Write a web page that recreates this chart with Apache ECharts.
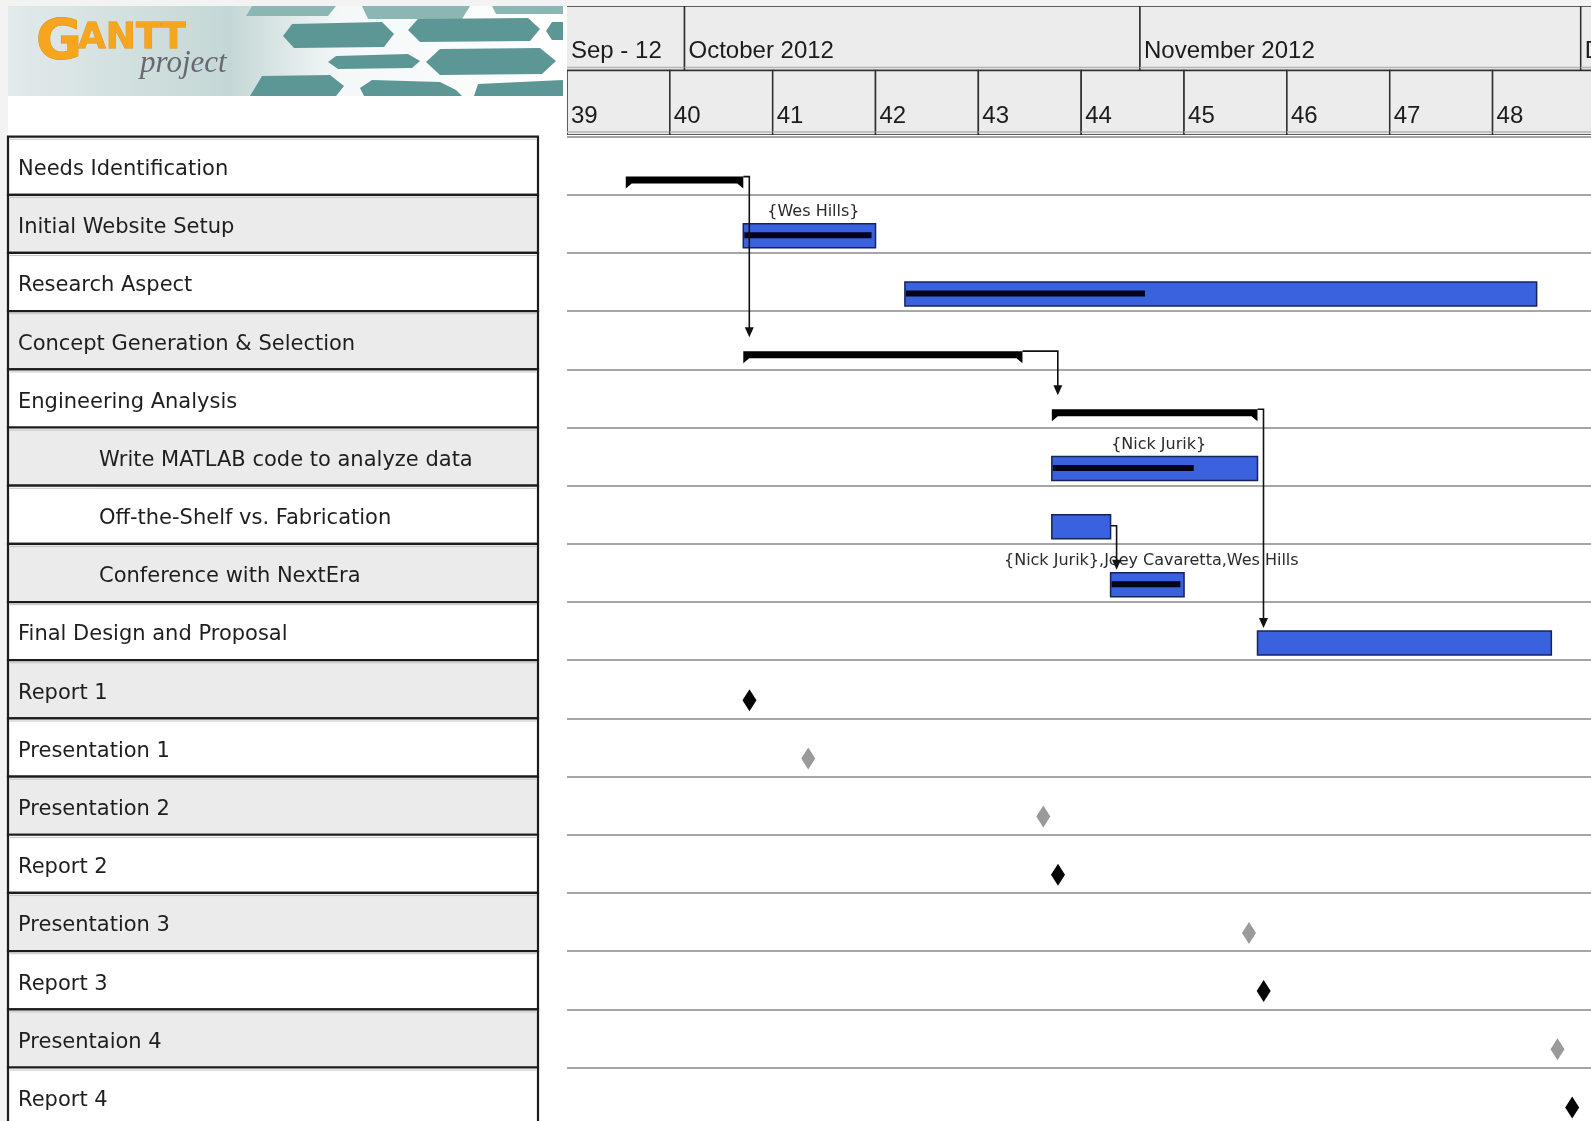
<!DOCTYPE html>
<html>
<head>
<meta charset="utf-8">
<script src="https://cdn.jsdelivr.net/npm/echarts@6/dist/echarts.min.js"></script>
<style>
  html, body { margin: 0; padding: 0; background: #ffffff; }
  #chart { width: 1591px; height: 1121px; }
</style>
</head>
<body>
<div id="chart"></div>
<script>
// ---- Project data -------------------------------------------------------
const taskNames = [
  'Needs Identification',
  'Initial Website Setup',
  'Research Aspect',
  'Concept Generation & Selection',
  'Engineering Analysis',
  'Write MATLAB code to analyze data',
  'Off-the-Shelf vs. Fabrication',
  'Conference with NextEra',
  'Final Design and Proposal',
  'Report 1',
  'Presentation 1',
  'Presentation 2',
  'Report 2',
  'Presentation 3',
  'Report 3',
  'Presentaion 4',
  'Report 4'
];
const taskLevel = [0, 0, 0, 0, 0, 1, 1, 1, 0, 0, 0, 0, 0, 0, 0, 0, 0];
const taskType = [
  'summary', 'task', 'task', 'summary', 'summary', 'task', 'task', 'task', 'task',
  'milestone', 'milestone', 'milestone', 'milestone', 'milestone', 'milestone', 'milestone', 'milestone'
];
const taskStart = [
  '2012-09-27', '2012-10-05', '2012-10-16', '2012-10-05', '2012-10-26',
  '2012-10-26', '2012-10-26', '2012-10-30', '2012-11-09',
  '2012-10-05', '2012-10-09', '2012-10-25', '2012-10-26',
  '2012-11-08', '2012-11-09', '2012-11-29', '2012-11-30'
];
const taskEnd = [
  '2012-10-05', '2012-10-14', '2012-11-28', '2012-10-24', '2012-11-09',
  '2012-11-09', '2012-10-30', '2012-11-04', '2012-11-29',
  null, null, null, null, null, null, null, null
];
const taskProgress = [null, 97, 38, null, null, 69, 0, 95, 0, null, null, null, null, null, null, null, null];
const taskResources = [
  '', '{Wes Hills}', '', '', '', '{Nick Jurik}', '',
  '{Nick Jurik},Joey Cavaretta,Wes Hills', '', '', '', '', '', '', '', '', ''
];
// finish-to-start links: [predecessor row, successor row]
const dependencies = [[0, 3], [3, 4], [4, 8], [6, 7]];

// timeline header
const monthLabels = ['Sep - 12', 'October 2012', 'November 2012', 'December 2012'];
const monthStarts = ['2012-09-01', '2012-10-01', '2012-11-01', '2012-12-01'];
const weekNumbers = [39, 40, 41, 42, 43, 44, 45, 46, 47, 48];
const weekStarts = [
  '2012-09-23', '2012-09-30', '2012-10-07', '2012-10-14', '2012-10-21',
  '2012-10-28', '2012-11-04', '2012-11-11', '2012-11-18', '2012-11-25'
];

// ---- helpers ------------------------------------------------------------
const DAY = 86400000;
const VIEW_START = Date.UTC(2012, 8, 23);
const VIEW_DAYS = 69.7;
function dayNum(s) {
  const p = s.split('-').map(Number);
  return (Date.UTC(p[0], p[1] - 1, p[2]) - VIEW_START) / DAY;
}
function nextMonth(s) {
  const p = s.split('-').map(Number);
  return (Date.UTC(p[0], p[1], 1) - VIEW_START) / DAY;
}

const PAGE_H = 1121;
const ROW_TOP = 136.6;
const ROW_H = 58.18;
const VISIBLE_ROWS = (PAGE_H - ROW_TOP) / ROW_H;   // the last row runs off the page

const monthData = monthStarts.map((s, i) => [dayNum(s), nextMonth(s), 0, i]);
const weekData = weekStarts.map((s, i) => [dayNum(s), dayNum(s) + 7, 1, weekNumbers[i]]);

const barData = [];
const milestoneData = [];
taskNames.forEach((n, i) => {
  if (taskType[i] === 'milestone') {
    milestoneData.push([dayNum(taskStart[i]), i]);
  } else {
    barData.push([dayNum(taskStart[i]), dayNum(taskEnd[i]), i]);
  }
});
const depData = dependencies.map(d => [dayNum(taskEnd[d[0]]), d[0], dayNum(taskStart[d[1]]), d[1]]);

// ---- renderers ----------------------------------------------------------
const HEADER_FONT = '24px "Liberation Sans", Arial, sans-serif';

function rowTop(api, x, row) {
  return api.coord([x, row])[1];
}

function renderHeaderCell(params, api) {
  const cs = params.coordSys;
  const row = api.value(2);
  const p0 = api.coord([api.value(0), row]);
  const p1 = api.coord([api.value(1), row]);
  const h = Math.abs(api.size([0, 1])[1]);
  const top = p0[1] - h / 2;
  const label = row === 0 ? monthLabels[api.value(3)] : String(api.value(3));
  const lx = Math.max(p0[0], cs.x) + 4;
  return {
    type: 'group',
    children: [
      { type: 'rect', shape: { x: p0[0], y: top, width: p1[0] - p0[0], height: h },
        style: { fill: '#ececec', stroke: '#2e2e2e', lineWidth: 1.5 } },
      { type: 'line', shape: { x1: p0[0], y1: top + h - 3, x2: p1[0], y2: top + h - 3 },
        style: { stroke: '#b4b4b4', lineWidth: 1.5 } },
      { type: 'text', x: lx, y: top + h * (row === 0 ? 0.7 : 0.71),
        style: { text: label, font: HEADER_FONT, fill: '#1c1c1c', verticalAlign: 'middle' } }
    ]
  };
}

function renderTableRow(params, api) {
  const cs = params.coordSys;
  const i = api.value(0);
  const top = rowTop(api, 0, i);
  const h = ROW_H;
  return {
    type: 'group',
    children: [
      { type: 'rect', shape: { x: cs.x, y: top, width: cs.width, height: h },
        style: { fill: i % 2 === 1 ? '#ebebeb' : '#ffffff', stroke: '#1c1c1c', lineWidth: 2.2 } },
      { type: 'line', shape: { x1: cs.x + 1.5, y1: top + 2.6, x2: cs.x + cs.width - 1.5, y2: top + 2.6 },
        style: { stroke: '#c4c4c4', lineWidth: 1 } },
      { type: 'text', x: cs.x + 10 + taskLevel[i] * 81, y: top + 33,
        style: { text: taskNames[i], font: '21px "DejaVu Sans", sans-serif', fill: '#1e1e1e', verticalAlign: 'middle' } }
    ]
  };
}

function renderBar(params, api) {
  const row = api.value(2);
  const x0 = api.coord([api.value(0), row])[0];
  const x1 = api.coord([api.value(1), row])[0];
  const top = rowTop(api, 0, row);
  const children = [];
  if (taskType[row] === 'summary') {
    const t = top + 40;
    children.push({
      type: 'polygon',
      shape: { points: [[x0, t], [x1, t], [x1, t + 12], [x1 - 6, t + 7], [x0 + 6, t + 7], [x0, t + 12]] },
      style: { fill: '#000000' }
    });
  } else {
    children.push({
      type: 'rect', shape: { x: x0, y: top + 29, width: x1 - x0, height: 24 },
      style: { fill: '#3a62de', stroke: '#16245e', lineWidth: 1.5 }
    });
    const prog = taskProgress[row];
    if (prog > 0) {
      children.push({
        type: 'rect', shape: { x: x0 + 1, y: top + 37.5, width: (x1 - x0) * prog / 100 - 1, height: 6 },
        style: { fill: '#02051a' }
      });
    }
    if (taskResources[row]) {
      children.push({
        type: 'text', x: (x0 + x1) / 2 + 4, y: top + 17,
        style: { text: taskResources[row], font: '16px "DejaVu Sans", sans-serif', fill: '#2a2a2a',
                 align: 'center', verticalAlign: 'middle' }
      });
    }
  }
  return { type: 'group', children };
}

function renderMilestone(params, api) {
  const row = api.value(1);
  const cx = api.coord([api.value(0) + 0.42, row])[0];
  const cy = rowTop(api, 0, row) + 40;
  const dark = taskNames[row].indexOf('Report') === 0;
  return {
    type: 'polygon',
    shape: { points: [[cx, cy - 11], [cx + 7, cy], [cx, cy + 11], [cx - 7, cy]] },
    style: { fill: dark ? '#050505' : '#9a9a9a' }
  };
}

function renderLink(params, api) {
  const fromRow = api.value(1), toRow = api.value(3);
  const xa = api.coord([api.value(0), fromRow])[0];
  const xt = api.coord([api.value(2), toRow])[0] + 6;
  const y0 = rowTop(api, 0, fromRow) + 40;
  const tip = rowTop(api, 0, toRow) + 26;
  return {
    type: 'group',
    children: [
      { type: 'polyline', shape: { points: [[xa, y0], [xt, y0], [xt, tip - 8]] },
        style: { stroke: '#111111', lineWidth: 1.6, fill: null } },
      { type: 'polygon', shape: { points: [[xt - 4.5, tip - 10], [xt + 4.5, tip - 10], [xt, tip]] },
        style: { fill: '#111111' } }
    ]
  };
}

// ---- logo banner --------------------------------------------------------
const hexCells = [
  // top band
  [[252, 6], [336, 6], [328, 16], [246, 16]],
  [[362, 6], [470, 6], [462, 19], [368, 19]],
  [[492, 6], [563, 6], [563, 14], [496, 14]],
  // second band
  [[292, 24], [382, 22], [394, 34], [384, 47], [294, 48], [283, 36]],
  [[418, 19], [528, 18], [540, 29], [530, 41], [420, 42], [408, 30]],
  [[552, 22], [563, 22], [563, 40], [552, 40], [546, 31]],
  // third band
  [[336, 56], [408, 54], [420, 61], [412, 68], [338, 69], [328, 62]],
  [[440, 49], [540, 48], [556, 61], [542, 74], [440, 75], [426, 62]],
  // bottom band
  [[262, 76], [330, 75], [344, 86], [336, 96], [250, 96]],
  [[372, 80], [440, 82], [456, 90], [462, 96], [364, 96], [360, 88]],
  [[478, 84], [563, 80], [563, 96], [474, 96]]
];
const logoElements = [
  { type: 'rect', shape: { x: 0, y: 0, width: 8, height: 1121 }, style: { fill: '#f3f3f3' }, silent: true },
  { type: 'rect', shape: { x: 0, y: 0, width: 1591, height: 6 }, style: { fill: '#f3f3f3' }, silent: true },
  { type: 'rect', shape: { x: 8, y: 6, width: 555, height: 90 },
    style: { fill: new echarts.graphic.LinearGradient(0, 0, 1, 0, [
      { offset: 0, color: '#e2eaea' }, { offset: 0.4, color: '#c4d7d6' }, { offset: 0.6, color: '#f4f8f8' },
      { offset: 1, color: '#ffffff' }]) } }
].concat(hexCells.map((pts, k) => ({
  type: 'polygon', shape: { points: pts },
  style: { fill: k < 3 ? '#8ab6b4' : '#5c9795' }
}))).concat([
  { type: 'text', x: 36, y: 43,
    style: { text: 'G', font: 'bold 56px "DejaVu Sans", sans-serif', fill: '#f6a51e',
             stroke: '#e58c08', lineWidth: 1, verticalAlign: 'middle' } },
  { type: 'text', x: 78, y: 39,
    style: { text: 'ANTT', font: 'bold 36px "DejaVu Sans", sans-serif', fill: '#f6a51e',
             stroke: '#e58c08', lineWidth: 0.8, verticalAlign: 'middle' } },
  { type: 'text', x: 140, y: 64,
    style: { text: 'project', font: 'italic 31px "Liberation Serif", "DejaVu Serif", serif', fill: '#686872',
             verticalAlign: 'middle' } }
]);

// ---- chart --------------------------------------------------------------
const chart = echarts.init(document.getElementById('chart'), null, { renderer: 'canvas' });
chart.setOption({
  backgroundColor: '#ffffff',
  animation: false,
  graphic: logoElements,
  grid: [
    { left: 567, right: 0, top: 6, height: 129 },                  // timeline header
    { left: 567, right: 0, top: ROW_TOP, bottom: 0 },              // gantt area
    { left: 8, width: 530, top: ROW_TOP, bottom: 0 }               // task list
  ],
  xAxis: [
    { type: 'value', gridIndex: 0, min: 0, max: VIEW_DAYS, show: false },
    { type: 'value', gridIndex: 1, min: 0, max: VIEW_DAYS, show: false },
    { type: 'value', gridIndex: 2, min: 0, max: 1, show: false }
  ],
  yAxis: [
    { type: 'category', gridIndex: 0, data: ['month', 'week'], inverse: true, show: false },
    { type: 'value', gridIndex: 1, min: 0, max: VISIBLE_ROWS, interval: 1, inverse: true,
      axisLine: { show: false }, axisTick: { show: false }, axisLabel: { show: false },
      splitLine: { show: true, showMaxLine: false, lineStyle: { color: '#a6a6a6', width: 2 } } },
    { type: 'value', gridIndex: 2, min: 0, max: VISIBLE_ROWS, inverse: true, show: false,
      splitLine: { show: false } }
  ],
  series: [
    { type: 'custom', name: 'months', xAxisIndex: 0, yAxisIndex: 0, clip: true,
      renderItem: renderHeaderCell, data: monthData, encode: { x: [0, 1], y: 2 } },
    { type: 'custom', name: 'weeks', xAxisIndex: 0, yAxisIndex: 0, clip: true,
      renderItem: renderHeaderCell, data: weekData, encode: { x: [0, 1], y: 2 } },
    { type: 'custom', name: 'tasks', xAxisIndex: 1, yAxisIndex: 1, clip: true, z: 3,
      renderItem: renderBar, data: barData, encode: { x: [0, 1], y: 2 } },
    { type: 'custom', name: 'milestones', xAxisIndex: 1, yAxisIndex: 1, clip: true, z: 3,
      renderItem: renderMilestone, data: milestoneData, encode: { x: 0, y: 1 } },
    { type: 'custom', name: 'links', xAxisIndex: 1, yAxisIndex: 1, clip: true, z: 4,
      renderItem: renderLink, data: depData, encode: { x: [0, 2], y: [1, 3] } },
    { type: 'custom', name: 'task list', xAxisIndex: 2, yAxisIndex: 2, z: 2, clip: false,
      renderItem: renderTableRow, data: taskNames.map((n, i) => [i]), encode: { y: 0 } }
  ]
});
</script>
</body>
</html>
